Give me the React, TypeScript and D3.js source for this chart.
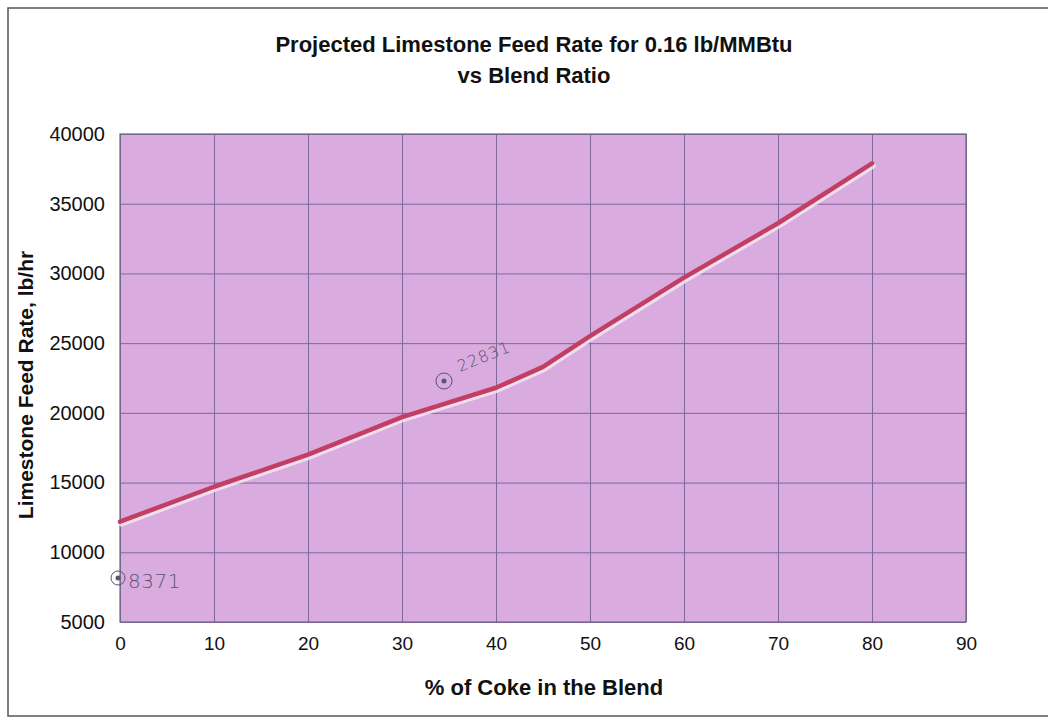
import * as d3 from 'd3';
import { useEffect, useRef } from 'react';

// % of coke in the blend
const cokePct = [0, 10, 20, 30, 40, 45, 50, 60, 70, 80];
// limestone feed rate, lb/hr
const feedRate = [12200, 14700, 17000, 19700, 21800, 23300, 25500, 29700, 33600, 37900];

const xTicks = [0, 10, 20, 30, 40, 50, 60, 70, 80, 90];
const yTicks = [5000, 10000, 15000, 20000, 25000, 30000, 35000, 40000];

const titleLines = ['Projected Limestone Feed Rate for 0.16 lb/MMBtu', 'vs Blend Ratio'];
const xLabel = '% of Coke in the Blend';
const yLabel = 'Limestone Feed Rate, lb/hr';

function App() {
  const svgRef = useRef<SVGSVGElement>(null);

  useEffect(() => {
    if (!svgRef.current) {
      return;
    }
    const svg = d3.select(svgRef.current);
    svg.selectAll('*').remove();

    const W = 1048;
    const H = 723;
    const margin = { top: 134, right: 82, bottom: 101, left: 120 };
    const width = W - margin.left - margin.right;
    const height = H - margin.top - margin.bottom;
    const font = 'Arial, "Liberation Sans", sans-serif';

    svg.attr('width', W).attr('height', H);

    // page background + outer frame
    svg.append('rect').attr('width', W).attr('height', H).attr('fill', '#ffffff');
    svg
      .append('rect')
      .attr('x', 8)
      .attr('y', 8)
      .attr('width', W + 10)
      .attr('height', 708)
      .attr('fill', 'none')
      .attr('stroke', '#555')
      .attr('stroke-width', 1.5);

    const g = svg.append('g').attr('transform', `translate(${margin.left},${margin.top})`);

    const xScale = d3.scaleLinear().domain([0, 90]).range([0, width]);
    const yScale = d3.scaleLinear().domain([5000, 40000]).range([height, 0]);

    // plot area
    g.append('rect')
      .attr('width', width)
      .attr('height', height)
      .attr('fill', '#d9abde');

    // grid
    g.append('g')
      .attr('transform', `translate(0,${height})`)
      .call(
        d3
          .axisBottom(xScale)
          .tickValues(xTicks)
          .tickSize(-height)
          .tickFormat(() => '')
      )
      .call((s) => s.select('.domain').remove())
      .selectAll('line')
      .attr('stroke', '#7d6a9c')
      .attr('stroke-width', 1);

    g.append('g')
      .call(
        d3
          .axisLeft(yScale)
          .tickValues(yTicks)
          .tickSize(-width)
          .tickFormat(() => '')
      )
      .call((s) => s.select('.domain').remove())
      .selectAll('line')
      .attr('stroke', '#7d6a9c')
      .attr('stroke-width', 1);

    g.append('rect')
      .attr('width', width)
      .attr('height', height)
      .attr('fill', 'none')
      .attr('stroke', '#6e6a7c')
      .attr('stroke-width', 1.2);

    // tick labels
    g.append('g')
      .attr('transform', `translate(0,${height})`)
      .call(d3.axisBottom(xScale).tickValues(xTicks).tickSize(0).tickPadding(15).tickFormat(d3.format('d')))
      .call((s) => s.select('.domain').remove())
      .selectAll('text')
      .attr('font-family', font)
      .attr('font-size', 19)
      .attr('fill', '#111');

    g.append('g')
      .call(d3.axisLeft(yScale).tickValues(yTicks).tickSize(0).tickPadding(15).tickFormat(d3.format('d')))
      .call((s) => s.select('.domain').remove())
      .selectAll('text')
      .attr('font-family', font)
      .attr('font-size', 20)
      .attr('fill', '#111');

    // series
    const points = cokePct.map((x, i) => ({ x, y: feedRate[i] }));
    const line = d3
      .line<{ x: number; y: number }>()
      .x((d) => xScale(d.x))
      .y((d) => yScale(d.y));

    g.append('path')
      .datum(points)
      .attr('fill', 'none')
      .attr('stroke', '#f4eaf4')
      .attr('stroke-width', 5)
      .attr('stroke-linecap', 'round')
      .attr('opacity', 0.8)
      .attr('transform', 'translate(1.5,2.5)')
      .attr('d', line);

    g.append('path')
      .datum(points)
      .attr('fill', 'none')
      .attr('stroke', '#c23e62')
      .attr('stroke-width', 4.5)
      .attr('stroke-linecap', 'round')
      .attr('stroke-linejoin', 'round')
      .attr('d', line);

    // handwritten notes on the scan
    const notes = svg.append('g').attr('fill', '#5a5570').attr('font-family', '"DejaVu Sans", sans-serif');
    notes.append('circle').attr('cx', 118).attr('cy', 578).attr('r', 7).attr('fill', 'none').attr('stroke', '#5a5570').attr('stroke-width', 1);
    notes.append('circle').attr('cx', 118).attr('cy', 578).attr('r', 2.5);
    notes
      .append('text')
      .attr('x', 128)
      .attr('y', 588)
      .attr('font-size', 20)
      .attr('font-weight', 200)
      .attr('letter-spacing', 0.5)
      .text('8371');
    notes.append('circle').attr('cx', 444).attr('cy', 381).attr('r', 8).attr('fill', 'none').attr('stroke', '#5a5570').attr('stroke-width', 1);
    notes.append('circle').attr('cx', 444).attr('cy', 381).attr('r', 2.5);
    notes
      .append('text')
      .attr('transform', 'translate(460,372) rotate(-22)')
      .attr('font-size', 16)
      .attr('font-weight', 200)
      .attr('letter-spacing', 1)
      .text('22831');

    // titles
    const titles = svg
      .append('text')
      .attr('text-anchor', 'middle')
      .attr('font-family', font)
      .attr('font-weight', 'bold')
      .attr('font-size', 22)
      .attr('fill', '#111');
    titleLines.forEach((t, i) => {
      titles.append('tspan').attr('x', 534).attr('y', 52 + i * 31).text(t);
    });

    svg
      .append('text')
      .attr('x', 544)
      .attr('y', 695)
      .attr('text-anchor', 'middle')
      .attr('font-family', font)
      .attr('font-weight', 'bold')
      .attr('font-size', 22)
      .attr('fill', '#111')
      .text(xLabel);

    svg
      .append('text')
      .attr('transform', 'translate(33,385) rotate(-90)')
      .attr('text-anchor', 'middle')
      .attr('font-family', font)
      .attr('font-weight', 'bold')
      .attr('font-size', 21)
      .attr('fill', '#111')
      .text(yLabel);
  }, []);

  return (
    <div style={{ position: 'absolute', left: 0, top: 0, width: 1048, height: 723 }}>
      <svg ref={svgRef} style={{ display: 'block' }} />
    </div>
  );
}

export default App;
